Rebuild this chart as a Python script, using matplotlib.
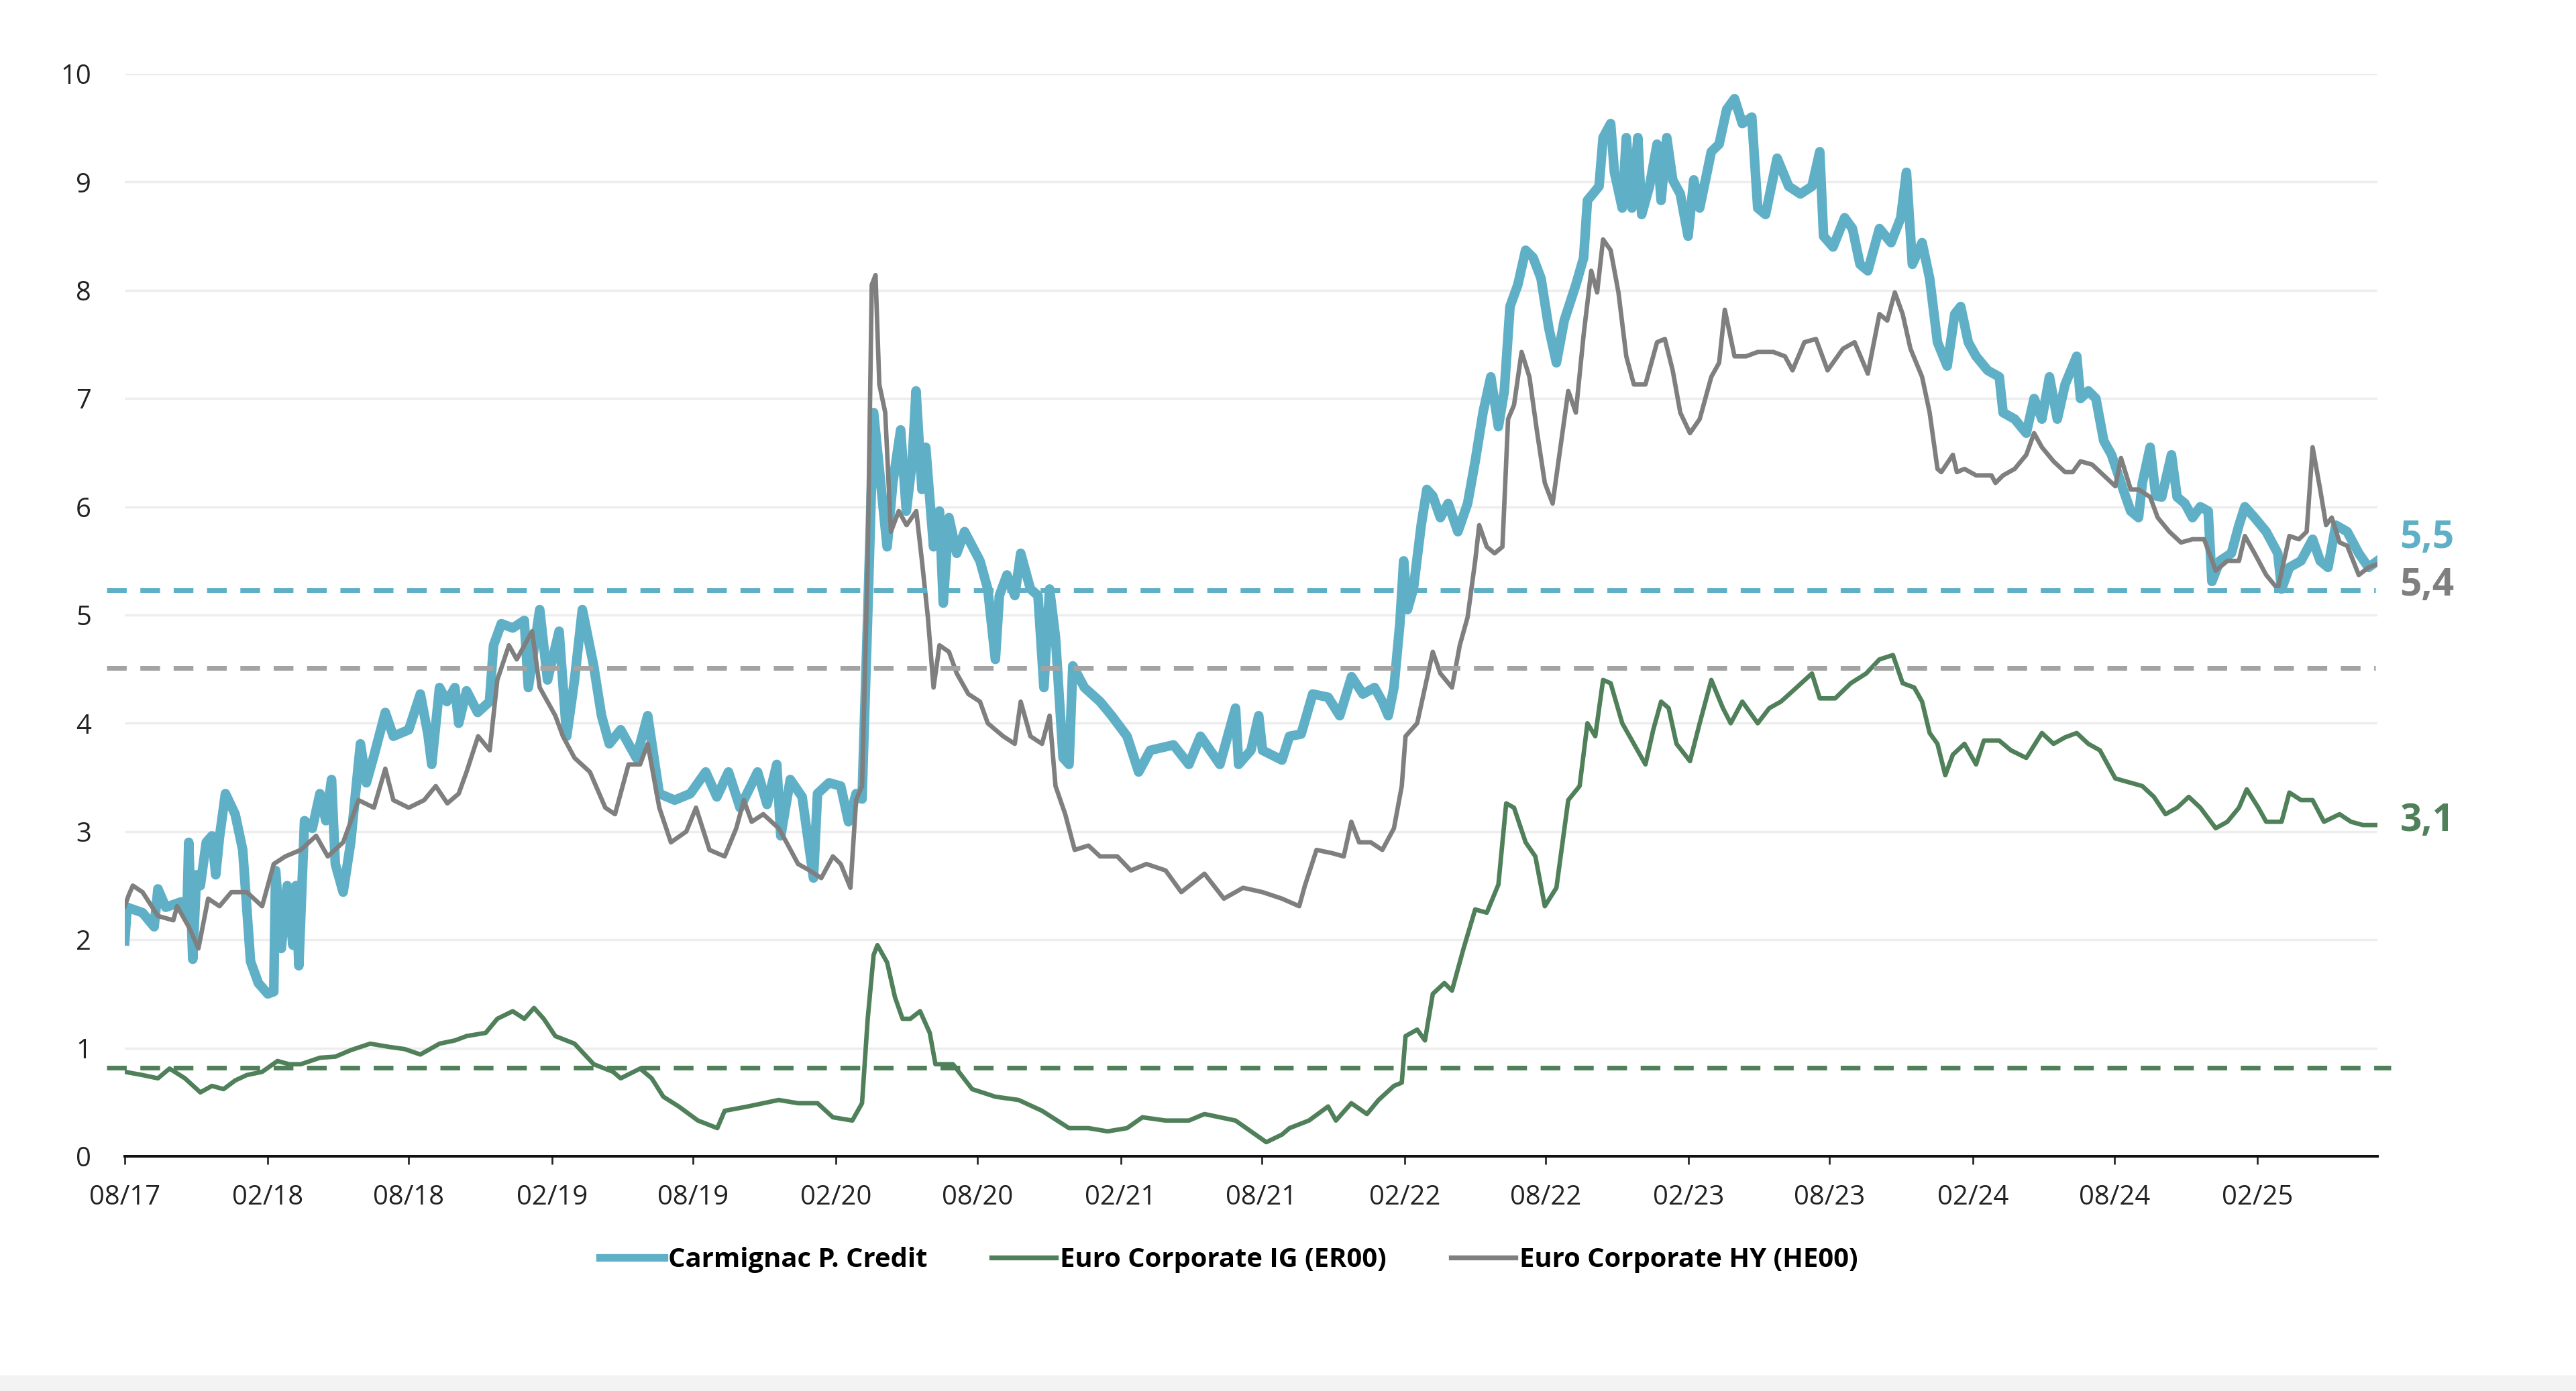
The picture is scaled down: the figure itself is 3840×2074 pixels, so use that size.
import numpy as np
import pandas as pd
import matplotlib
matplotlib.use("Agg")
import matplotlib.pyplot as plt
import matplotlib.dates as mdates
from matplotlib.lines import Line2D

plt.rcParams['font.family'] = ['Open Sans', 'DejaVu Sans']

# Data: time in months since 08/2017
start = pd.Timestamp("2017-08-01")

t_credit = [0, 0.1, 0.75, 1.24, 1.4, 1.73, 2.38, 2.62, 2.7, 2.87, 3.03, 3.19, 3.44, 3.68, 3.84, 4.0,
            4.25, 4.66, 4.98, 5.31, 5.64, 6.04, 6.29, 6.37, 6.61, 6.86, 7.1, 7.23, 7.35, 7.59, 7.92,
            8.24, 8.49, 8.73, 8.89, 9.22, 9.54, 9.95, 10.2, 10.52, 11.0, 11.34, 11.99, 12.48, 12.8,
            12.96, 13.29, 13.6, 13.94, 14.1, 14.43, 14.9, 15.4, 15.57, 15.9, 16.38, 16.87, 17.04,
            17.52, 17.85, 18.34, 18.66, 18.99, 19.32, 19.8, 20.13, 20.46, 20.94, 21.6, 22.08, 22.57,
            23.22, 23.88, 24.53, 25.0, 25.49, 25.98, 26.72, 27.12, 27.53, 27.7, 28.1, 28.6, 29.08,
            29.25, 29.74, 30.23, 30.56, 30.88, 31.13, 31.37, 31.62, 31.86, 32.19, 32.43, 32.76, 33.0,
            33.25, 33.41, 33.66, 33.82, 34.15, 34.4, 34.56, 34.8, 35.13, 35.46, 36.11, 36.44, 36.76,
            36.93, 37.25, 37.58, 37.83, 38.24, 38.56, 38.81, 39.05, 39.3, 39.62, 39.87, 40.03, 40.52,
            41.18, 41.67, 42.32, 42.81, 43.3, 44.28, 44.93, 45.42, 46.24, 46.9, 47.03, 47.55, 47.88,
            48.04, 48.86, 49.18, 49.67, 50.16, 50.81, 51.3, 51.8, 52.28, 52.77, 53.1, 53.35, 53.59,
            53.84, 54.0, 54.16, 54.41, 54.74, 54.98, 55.23, 55.55, 55.88, 56.29, 56.7, 57.02, 57.35,
            57.68, 58.0, 58.25, 58.49, 58.82, 59.15, 59.47, 59.8, 60.13, 60.45, 60.78, 61.27, 61.6,
            61.76, 62.25, 62.42, 62.74, 62.9, 63.23, 63.4, 63.64, 63.89, 64.05, 64.38, 64.7, 64.87,
            65.11, 65.36, 65.68, 66.01, 66.25, 66.5, 66.99, 67.32, 67.64, 67.97, 68.3, 68.7, 68.95,
            69.28, 69.77, 70.26, 70.75, 71.24, 71.57, 71.73, 72.13, 72.62, 72.95, 73.27, 73.6, 74.09,
            74.58, 74.99, 75.23, 75.48, 75.89, 76.21, 76.54, 76.95, 77.27, 77.52, 77.84, 78.17, 78.66,
            79.15, 79.31, 79.8, 80.29, 80.62, 80.95, 81.27, 81.6, 81.93, 82.42, 82.58, 82.91, 83.23,
            83.56, 83.89, 84.38, 84.7, 85.03, 85.19, 85.52, 85.76, 86.01, 86.42, 86.66, 86.99, 87.31,
            87.64, 87.97, 88.13, 88.46, 88.95, 89.27, 89.52, 89.93, 90.42, 90.91, 91.07, 91.4, 91.89,
            92.38, 92.7, 93.03, 93.36, 93.84, 94.33, 94.74, 95.12]
v_credit = [1.99, 2.3, 2.25, 2.12, 2.47, 2.3, 2.35, 2.2, 2.9, 1.82, 2.6, 2.5, 2.9, 2.96, 2.6, 2.95,
            3.35, 3.16, 2.83, 1.8, 1.6, 1.5, 1.52, 2.64, 1.92, 2.5, 1.95, 2.5, 1.76, 3.1, 3.03,
            3.35, 3.1, 3.48, 2.7, 2.44, 2.9, 3.81, 3.45, 3.7, 4.1, 3.88, 3.94, 4.27, 3.9,
            3.62, 4.33, 4.2, 4.33, 4.0, 4.3, 4.1, 4.2, 4.72, 4.92, 4.88, 4.95, 4.33,
            5.05, 4.4, 4.85, 3.88, 4.4, 5.05, 4.53, 4.07, 3.81, 3.94, 3.68, 4.07, 3.35,
            3.29, 3.35, 3.55, 3.32, 3.55, 3.22, 3.55, 3.25, 3.62, 2.96, 3.48, 3.32, 2.57,
            3.35, 3.45, 3.42, 3.09, 3.35, 3.3, 5.0, 6.87, 6.35, 5.63, 6.22, 6.71, 5.96,
            6.42, 7.07, 6.16, 6.55, 5.63, 5.96, 5.11, 5.9, 5.57, 5.77, 5.5, 5.24, 4.59,
            5.18, 5.37, 5.18, 5.57, 5.24, 5.18, 4.33, 5.24, 4.79, 3.68, 3.62, 4.53, 4.33,
            4.2, 4.07, 3.88, 3.55, 3.75, 3.8, 3.62, 3.88, 3.62, 4.14, 3.62, 3.75, 4.07,
            3.75, 3.66, 3.88, 3.9, 4.27, 4.24, 4.07, 4.43, 4.27, 4.33, 4.2, 4.07, 4.33,
            4.92, 5.5, 5.05, 5.24, 5.83, 6.16, 6.1, 5.9, 6.03, 5.77, 6.03, 6.42, 6.87,
            7.2, 6.74, 7.07, 7.85, 8.05, 8.37, 8.3, 8.11, 7.65, 7.33, 7.72, 8.05, 8.3,
            8.83, 8.96, 9.41, 9.54, 9.09, 8.76, 9.41, 8.76, 9.41, 8.7, 8.96, 9.35, 8.83,
            9.41, 9.02, 8.89, 8.5, 9.02, 8.76, 9.28, 9.35, 9.67, 9.77, 9.54, 9.6, 8.76,
            8.7, 9.22, 8.96, 8.89, 8.96, 9.28, 8.5, 8.4, 8.67, 8.57, 8.24, 8.18, 8.57,
            8.44, 8.67, 9.09, 8.24, 8.44, 8.11, 7.52, 7.3, 7.78, 7.85, 7.52, 7.39, 7.26,
            7.2, 6.87, 6.81, 6.68, 7.0, 6.81, 7.2, 6.81, 7.13, 7.39, 7.0, 7.07, 7.0,
            6.61, 6.48, 6.16, 5.96, 5.9, 6.22, 6.55, 6.1, 6.09, 6.48, 6.09, 6.03, 5.9,
            6.0, 5.96, 5.31, 5.5, 5.57, 5.83, 6.0, 5.9, 5.77, 5.57, 5.24, 5.44, 5.5,
            5.7, 5.5, 5.44, 5.83, 5.77, 5.57, 5.44, 5.5]

t_ig = [0, 0.75, 1.4, 1.89, 2.54, 3.19, 3.68, 4.17, 4.66, 5.15, 5.8, 6.45, 6.94, 7.43, 8.24, 8.89,
        9.54, 10.36, 11.17, 11.82, 12.48, 13.29, 13.94, 14.43, 15.24, 15.73, 16.38, 16.87, 17.28,
        17.69, 18.18, 18.99, 19.8, 20.62, 20.94, 21.76, 22.25, 22.74, 23.39, 24.2, 25.02, 25.33,
        26.31, 27.61, 28.43, 29.25, 29.9, 30.72, 31.13, 31.37, 31.62, 31.78, 32.19, 32.52, 32.84,
        33.17, 33.58, 33.99, 34.23, 34.97, 35.78, 36.76, 37.74, 38.73, 39.87, 40.69, 41.5, 42.32,
        42.97, 43.95, 44.93, 45.59, 46.9, 47.55, 48.2, 48.86, 49.18, 50.0, 50.81, 51.14, 51.79,
        52.45, 52.94, 53.59, 53.92, 54.08, 54.57, 54.9, 55.23, 55.72, 56.04, 56.53, 57.02, 57.51,
        58.0, 58.33, 58.66, 59.15, 59.56, 59.96, 60.45, 60.95, 61.43, 61.76, 62.09, 62.42, 62.74,
        63.23, 63.72, 64.21, 64.54, 64.87, 65.19, 65.52, 66.09, 66.5, 66.99, 67.48, 67.81, 68.3,
        68.95, 69.44, 69.93, 70.59, 71.24, 71.57, 72.22, 72.88, 73.53, 74.09, 74.66, 75.07, 75.56,
        75.89, 76.21, 76.54, 76.87, 77.19, 77.68, 78.17, 78.5, 79.15, 79.64, 80.29, 80.95, 81.44,
        81.93, 82.42, 82.91, 83.4, 84.05, 84.7, 85.19, 85.68, 86.17, 86.66, 87.15, 87.64, 88.29,
        88.78, 89.27, 89.6, 90.09, 90.42, 91.07, 91.4, 91.89, 92.38, 92.86, 93.52, 94.0, 94.5,
        95.12]
v_ig = [0.78, 0.75, 0.72, 0.81, 0.72, 0.59, 0.65, 0.62, 0.7, 0.75, 0.78, 0.88, 0.85, 0.85, 0.91, 0.92,
        0.98, 1.04, 1.01, 0.99, 0.94, 1.04, 1.07, 1.11, 1.14, 1.27, 1.34, 1.27, 1.37,
        1.27, 1.11, 1.04, 0.85, 0.78, 0.72, 0.81, 0.72, 0.55, 0.46, 0.33, 0.26, 0.42,
        0.46, 0.52, 0.49, 0.49, 0.36, 0.33, 0.49, 1.27, 1.86, 1.95, 1.79, 1.47, 1.27,
        1.27, 1.34, 1.14, 0.85, 0.85, 0.62, 0.55, 0.52, 0.42, 0.26, 0.26, 0.23, 0.26,
        0.36, 0.33, 0.33, 0.39, 0.33, 0.23, 0.13, 0.2, 0.26, 0.33, 0.46, 0.33, 0.49,
        0.39, 0.52, 0.65, 0.68, 1.11, 1.17, 1.07, 1.5, 1.6, 1.53, 1.92, 2.28, 2.25,
        2.51, 3.26, 3.22, 2.9, 2.77, 2.31, 2.48, 3.29, 3.42, 4.0, 3.88, 4.4, 4.37,
        4.0, 3.81, 3.62, 3.94, 4.2, 4.14, 3.81, 3.65, 4.0, 4.4, 4.14, 4.0, 4.2,
        4.0, 4.14, 4.2, 4.33, 4.46, 4.23, 4.23, 4.37, 4.46, 4.59, 4.63, 4.37, 4.33,
        4.2, 3.91, 3.81, 3.52, 3.71, 3.81, 3.62, 3.84, 3.84, 3.75, 3.68, 3.91, 3.81,
        3.87, 3.91, 3.81, 3.75, 3.49, 3.45, 3.42, 3.32, 3.16, 3.22, 3.32, 3.22, 3.03,
        3.09, 3.22, 3.39, 3.22, 3.09, 3.09, 3.36, 3.29, 3.29, 3.09, 3.16, 3.09, 3.06,
        3.06]

t_hy = [0, 0.18, 0.34, 0.75, 1.4, 2.05, 2.21, 2.7, 3.11, 3.52, 4.0, 4.5, 5.15, 5.8, 6.29, 6.78,
        7.43, 8.08, 8.57, 9.22, 9.87, 10.52, 11.0, 11.34, 11.99, 12.64, 13.13, 13.62, 14.1, 14.43,
        14.92, 15.41, 15.73, 16.22, 16.55, 17.2, 17.52, 18.18, 18.5, 18.99, 19.64, 20.29, 20.7,
        21.27, 21.76, 22.08, 22.57, 23.06, 23.71, 24.12, 24.69, 25.33, 25.82, 26.14, 26.47, 26.96,
        27.61, 27.94, 28.43, 28.92, 29.41, 29.9, 30.23, 30.64, 30.88, 31.13, 31.37, 31.54, 31.7,
        31.86, 32.11, 32.35, 32.68, 33.01, 33.42, 33.66, 33.91, 34.15, 34.4, 34.8, 35.13, 35.62,
        36.11, 36.44, 37.09, 37.58, 37.83, 38.24, 38.73, 39.05, 39.3, 39.71, 40.11, 40.69, 41.18,
        41.91, 42.48, 43.14, 43.95, 44.61, 45.59, 46.41, 47.22, 48.04, 48.86, 49.59, 49.83, 50.32,
        50.98, 51.47, 51.79, 52.12, 52.61, 53.1, 53.59, 53.92, 54.08, 54.57, 54.9, 55.23, 55.55,
        56.04, 56.37, 56.7, 57.02, 57.19, 57.51, 57.84, 58.17, 58.41, 58.66, 58.98, 59.31, 59.64,
        59.96, 60.29, 60.62, 60.95, 61.27, 61.6, 61.92, 62.17, 62.42, 62.74, 63.07, 63.4, 63.72,
        64.21, 64.7, 65.03, 65.36, 65.68, 66.09, 66.5, 66.99, 67.32, 67.56, 67.97, 68.46, 68.95,
        69.61, 70.1, 70.42, 70.92, 71.41, 71.9, 72.55, 73.04, 73.6, 74.09, 74.42, 74.74, 75.07,
        75.4, 75.89, 76.21, 76.54, 76.7, 77.19, 77.36, 77.68, 78.17, 78.82, 78.99, 79.31, 79.8,
        80.29, 80.62, 80.95, 81.44, 81.93, 82.25, 82.58, 83.07, 83.56, 84.05, 84.29, 84.7, 85.03,
        85.52, 85.84, 86.33, 86.82, 87.31, 87.8, 88.29, 88.78, 89.27, 89.52, 89.93, 90.42, 90.91,
        91.4, 91.8, 92.13, 92.38, 92.7, 92.95, 93.19, 93.52, 93.84, 94.33, 94.74, 95.12]
v_hy = [2.31, 2.42, 2.5, 2.44, 2.22, 2.18, 2.31, 2.12, 1.92, 2.38, 2.31, 2.44, 2.44, 2.31, 2.7, 2.77,
        2.83, 2.96, 2.77, 2.9, 3.29, 3.22, 3.58, 3.29, 3.22, 3.29, 3.42, 3.26, 3.35, 3.55,
        3.88, 3.75, 4.4, 4.72, 4.59, 4.85, 4.33, 4.07, 3.88, 3.68, 3.55, 3.22, 3.16,
        3.62, 3.62, 3.81, 3.22, 2.9, 3.0, 3.22, 2.83, 2.77, 3.03, 3.29, 3.09, 3.16,
        3.03, 2.9, 2.7, 2.64, 2.57, 2.77, 2.7, 2.48, 3.29, 3.42, 5.5, 8.05, 8.14,
        7.13, 6.87, 5.77, 5.96, 5.83, 5.96, 5.5, 4.98, 4.33, 4.72, 4.66, 4.46, 4.27,
        4.2, 4.0, 3.88, 3.81, 4.2, 3.88, 3.81, 4.07, 3.42, 3.16, 2.83, 2.87, 2.77,
        2.77, 2.64, 2.7, 2.64, 2.44, 2.61, 2.38, 2.48, 2.44, 2.38, 2.31, 2.5, 2.83,
        2.8, 2.77, 3.09, 2.9, 2.9, 2.83, 3.03, 3.42, 3.88, 4.0, 4.33, 4.66, 4.46,
        4.33, 4.72, 4.98, 5.5, 5.83, 5.63, 5.57, 5.63, 6.81, 6.94, 7.43, 7.2, 6.68,
        6.22, 6.03, 6.55, 7.07, 6.87, 7.59, 8.18, 7.98, 8.47, 8.37, 7.98, 7.39, 7.13,
        7.13, 7.52, 7.55, 7.26, 6.87, 6.68, 6.81, 7.2, 7.33, 7.82, 7.39, 7.39, 7.43,
        7.43, 7.39, 7.26, 7.52, 7.55, 7.26, 7.46, 7.52, 7.23, 7.78, 7.72, 7.98, 7.78,
        7.46, 7.2, 6.87, 6.35, 6.32, 6.48, 6.32, 6.35, 6.29, 6.29, 6.22, 6.29, 6.35,
        6.48, 6.68, 6.55, 6.42, 6.32, 6.32, 6.42, 6.39, 6.29, 6.19, 6.45, 6.16, 6.16,
        6.09, 5.9, 5.77, 5.67, 5.7, 5.7, 5.41, 5.5, 5.5, 5.73, 5.57, 5.37, 5.24,
        5.73, 5.7, 5.77, 6.55, 6.16, 5.83, 5.9, 5.67, 5.64, 5.37, 5.44, 5.47]

# Average levels (dashed lines)
avg_credit = 5.23
avg_hy = 4.51
avg_ig = 0.82

series_names = ["Carmignac P. Credit", "Euro Corporate IG (ER00)", "Euro Corporate HY (HE00)"]
end_labels = ["5,5", "3,1", "5,4"]
end_label_y = [5.71, 3.10, 5.27]

c_credit = "#5FB0C7"
c_ig = "#4F805A"
c_hy = "#7F7F7F"
c_hy_avg = "#A3A3A3"


def to_dates(months):
    return start + pd.to_timedelta(np.asarray(months) * 30.4375, unit="D")


d_credit = to_dates(t_credit)
d_ig = to_dates(t_ig)
d_hy = to_dates(t_hy)

fig = plt.figure(figsize=(16, 8.641667), dpi=240)
ax = fig.add_axes([0.04844, 0.16876, 0.8745, 0.7782])

ax.plot(d_credit, v_credit, color=c_credit, lw=4.3, solid_joinstyle="round", zorder=2)
ax.plot(d_ig, v_ig, color=c_ig, lw=2.0, zorder=3)
ax.plot(d_hy, v_hy, color=c_hy, lw=2.0, zorder=3)

dash = (0, (4.2, 2.9))
ax.axhline(avg_credit, xmin=-0.008, xmax=0.999, color=c_credit, lw=2.1, ls=dash, clip_on=False, zorder=4)
ax.axhline(avg_hy, xmin=-0.008, xmax=0.999, color=c_hy_avg, lw=2.1, ls=dash, clip_on=False, zorder=4)
ax.axhline(avg_ig, xmin=-0.008, xmax=1.006, color=c_ig, lw=2.1, ls=dash, clip_on=False, zorder=4)

end_date = d_credit[-1]
ax.set_xlim(start, end_date)
ax.set_ylim(0, 10)
ax.set_yticks(range(0, 11))

ax.grid(axis="y", color="#EDEDED", lw=1.0)
ax.set_axisbelow(True)
for s in ["top", "right", "left"]:
    ax.spines[s].set_visible(False)
ax.spines["bottom"].set_color("#111111")
ax.spines["bottom"].set_linewidth(1.2)

ax.xaxis.set_major_locator(mdates.MonthLocator(bymonth=(2, 8)))
ax.xaxis.set_major_formatter(mdates.DateFormatter("%m/%y"))
ax.tick_params(axis="x", length=3.6, width=0.8, pad=9, labelsize=12, colors="#222222")
ax.tick_params(axis="y", length=0, pad=15, labelsize=12, colors="#222222")

label_colors = [c_credit, c_ig, c_hy]
for txt, yv, col in zip(end_labels, end_label_y, label_colors):
    ax.annotate(txt, xy=(end_date, yv), xytext=(10, 0), textcoords="offset points",
                ha="left", va="center", fontsize=17, fontweight="bold", color=col,
                annotation_clip=False)

handles = [Line2D([], [], color=c_credit, lw=3.4),
           Line2D([], [], color=c_ig, lw=2.2),
           Line2D([], [], color=c_hy, lw=2.2)]
fig.legend(handles, series_names, loc="center", bbox_to_anchor=(0.477, 0.0945), ncol=3,
           frameon=False, prop={"weight": "bold", "size": 12}, handlelength=2.4,
           handletextpad=0.15, columnspacing=2.4)

fig.add_artist(plt.Rectangle((0, 0), 1, 0.0106, transform=fig.transFigure,
                             color="#F3F3F3", zorder=0))

fig.savefig("out.png", dpi=240)
